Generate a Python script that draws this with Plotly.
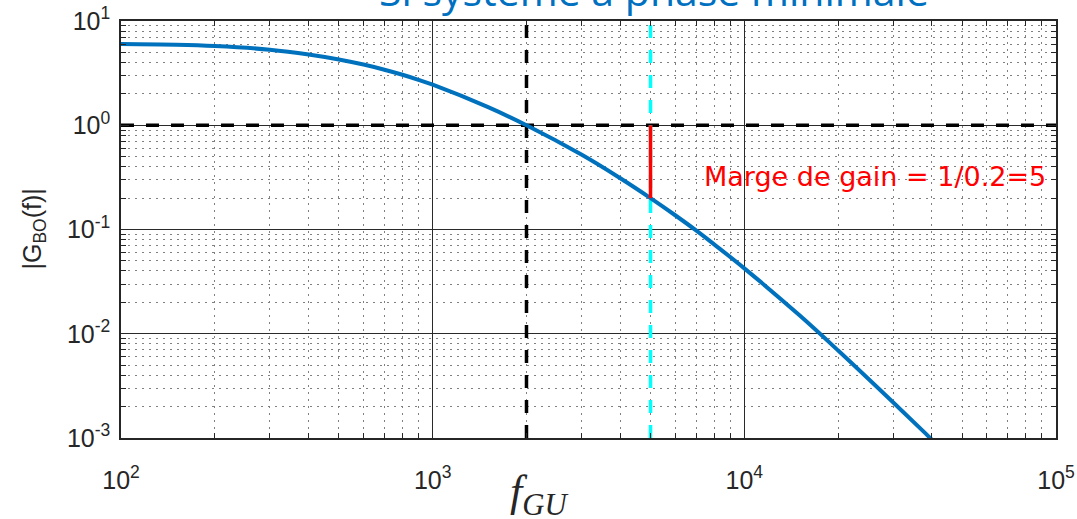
import plotly.graph_objects as go

# Open-loop gain |G_BO(f)|
freq = [100, 150, 200, 300, 400, 500, 600, 700, 800, 900, 1000, 1500, 2000,
        3000, 4000, 5000, 6000, 7000, 8000, 10000, 15000, 20000, 30000, 38200, 40000]
gain = [6.01, 5.92, 5.75, 5.31, 4.78, 4.28, 3.82, 3.41, 3.05, 2.73, 2.45, 1.50, 1.0,
        0.523, 0.31, 0.2, 0.137, 0.098, 0.072, 0.0424, 0.0151, 0.0069, 0.0022, 0.0011, 0.00096]

# Reference marks
f_gu = 2000          # unity-gain crossover
f_marge = 5000       # frequency where the gain margin is read
gain_marge = 0.2     # |G_BO| at f_marge
unity = 1.0

x_range = [100, 100000]
y_range = [0.001, 10]
x_ticks = [100, 1000, 10000, 100000]
x_text = ["10<sup>2</sup>", "10<sup>3</sup>", "10<sup>4</sup>", "10<sup>5</sup>"]
y_ticks = [0.001, 0.01, 0.1, 1, 10]
y_text = ["10<sup>-3</sup>", "10<sup>-2</sup>", "10<sup>-1</sup>", "10<sup>0</sup>", "10<sup>1</sup>"]

AXIS = "#262626"
DASH = "13px,12px"
fig = go.Figure()

# dashed guides
fig.add_trace(go.Scatter(x=x_range, y=[unity, unity], mode="lines",
                         line=dict(color="black", width=3.5, dash=DASH),
                         hoverinfo="skip", showlegend=False))
fig.add_trace(go.Scatter(x=[f_gu, f_gu], y=y_range, mode="lines",
                         line=dict(color="black", width=3.5, dash=DASH),
                         hoverinfo="skip", showlegend=False))
fig.add_trace(go.Scatter(x=[f_marge, f_marge], y=y_range, mode="lines",
                         line=dict(color="#00FFFF", width=3.5, dash=DASH),
                         hoverinfo="skip", showlegend=False))

# gain curve
fig.add_trace(go.Scatter(x=freq, y=gain, mode="lines", line_shape="spline",
                         line=dict(color="#0072BD", width=4),
                         showlegend=False))

# gain margin segment
fig.add_trace(go.Scatter(x=[f_marge, f_marge], y=[gain_marge, unity], mode="lines",
                         line=dict(color="#FF0000", width=3.5),
                         hoverinfo="skip", showlegend=False))

# annotation positions on log axes are given in decades
fig.add_annotation(x=4.975, xref="x", y=-0.49, yref="y",
                   xanchor="right", yanchor="middle", showarrow=False,
                   text="Marge de gain = 1/0.2=5",
                   font=dict(family="DejaVu Sans", size=27, color="#FF0000"))

# title partly above the canvas
fig.add_annotation(x=0.570, xref="paper", y=1.0736, yref="paper", xanchor="center",
                   yanchor="middle", showarrow=False,
                   text="Si système à phase minimale",
                   font=dict(family="Open Sans", size=41, color="#0070C0"))

# x label
fig.add_annotation(x=0.447, xref="paper", y=-0.0636, yref="paper", xanchor="center",
                   yanchor="top", showarrow=False,
                   text="<i>f</i><sub><i>GU</i></sub>",
                   font=dict(family="Liberation Serif", size=44, color=AXIS))

# y label
fig.add_annotation(x=-0.0941, xref="paper", y=0.5, yref="paper", xanchor="center",
                   yanchor="middle", showarrow=False, textangle=-90,
                   text="|G<sub>BO</sub>(f)|",
                   font=dict(family="Liberation Sans, Arial", size=25, color=AXIS))

common = dict(type="log", showline=True, linecolor=AXIS, linewidth=1.5, mirror="allticks",
              ticks="inside", ticklen=8, tickcolor=AXIS, tickwidth=1.2, automargin=False,
              showgrid=True, gridcolor="#2a2a2a", gridwidth=1.2, zeroline=False,
              tickmode="array",
              tickfont=dict(family="Liberation Sans, Arial", size=25, color=AXIS),
              minor=dict(dtick="D1", ticks="inside", ticklen=5, tickcolor=AXIS, tickwidth=1.2,
                         showgrid=True, gridcolor="#808080", gridwidth=1, griddash="2px,5px"))

fig.update_xaxes(range=[2, 5], tickvals=x_ticks, ticktext=x_text, ticklabelstandoff=19, **common)
fig.update_yaxes(range=[-3, 1], tickvals=y_ticks, ticktext=y_text, ticklabelstandoff=4, **common)

fig.update_layout(width=1077, height=519, plot_bgcolor="white", paper_bgcolor="white",
                  margin=dict(l=121, r=21, t=21, b=81, autoexpand=False))

fig.write_html("out.html")
